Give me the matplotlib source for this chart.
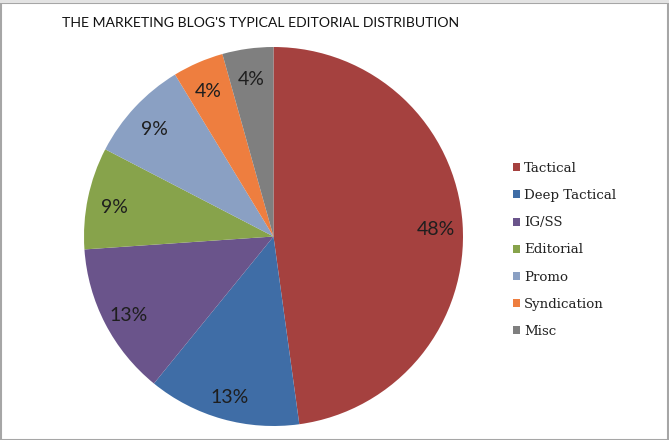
import matplotlib.pyplot as plt
from matplotlib.patches import Rectangle
from matplotlib.transforms import offset_copy

# datos del grafico (conteos de articulos)
categorias = ["Tactical", "Deep Tactical", "IG/SS", "Editorial", "Promo", "Syndication", "Misc"]
valores = [11, 3, 3, 2, 2, 1, 1]
colores = ["#A5413F", "#3F6DA6", "#6A548B", "#87A34B", "#8AA0C3", "#EE7E3F", "#7F7F7F"]
titulo = "THE MARKETING BLOG'S TYPICAL EDITORIAL DISTRIBUTION"

W, H = 669, 440
fig = plt.figure(figsize=(W / 100, H / 100), dpi=100)
fig.patch.set_facecolor("white")

# marco gris alrededor de la imagen
fig.patches.append(Rectangle((0.5 / W, 0.5 / H), 1 - 2 / W, 1 - 4 / H, transform=fig.transFigure,
                             fill=False, edgecolor="#a6a6a6", linewidth=1.5))
fig.patches.append(Rectangle((0, 1 - 3 / H), 1, 3 / H, transform=fig.transFigure,
                             facecolor="#e3e3e3", edgecolor="none"))

fig.text(261 / W, 1 - 23 / H, titulo, ha="center", va="center",
         fontsize=10.1, family="Lato", color="#111111")

# circulo: centro (273.5, 236.5) px, radio 189.5 px
cx, cy, r = 273.5, 236.5, 189.5
ax = fig.add_axes([(cx - r) / W, (H - cy - r) / H, 2 * r / W, 2 * r / H])
wedges, texts, autotexts = ax.pie(valores, colors=colores, startangle=90, counterclock=False,
                                  autopct="%1.0f%%", pctdistance=0.86, radius=1,
                                  wedgeprops={"edgecolor": "none"},
                                  textprops={"fontsize": 14, "family": "Lato",
                                             "color": "#1e1e1e"})
# etiquetas un poco mas abajo, como en Excel
for t in autotexts:
    t.set_transform(offset_copy(ax.transData, fig=fig, x=0, y=-4, units="dots"))
ax.set_xlim(-1, 1)
ax.set_ylim(-1, 1)
ax.axis("off")

leg = fig.legend(wedges, categorias, loc="upper left", bbox_to_anchor=(513 / W, 1 - 162 / H),
                 frameon=False, handlelength=0.55, handleheight=0.55, handletextpad=0.3,
                 labelspacing=1.06, borderaxespad=0, borderpad=0,
                 prop={"family": "DejaVu Serif", "size": 9.6})
for t in leg.get_texts():
    t.set_color("#222222")

fig.savefig("out.png", dpi=100)
